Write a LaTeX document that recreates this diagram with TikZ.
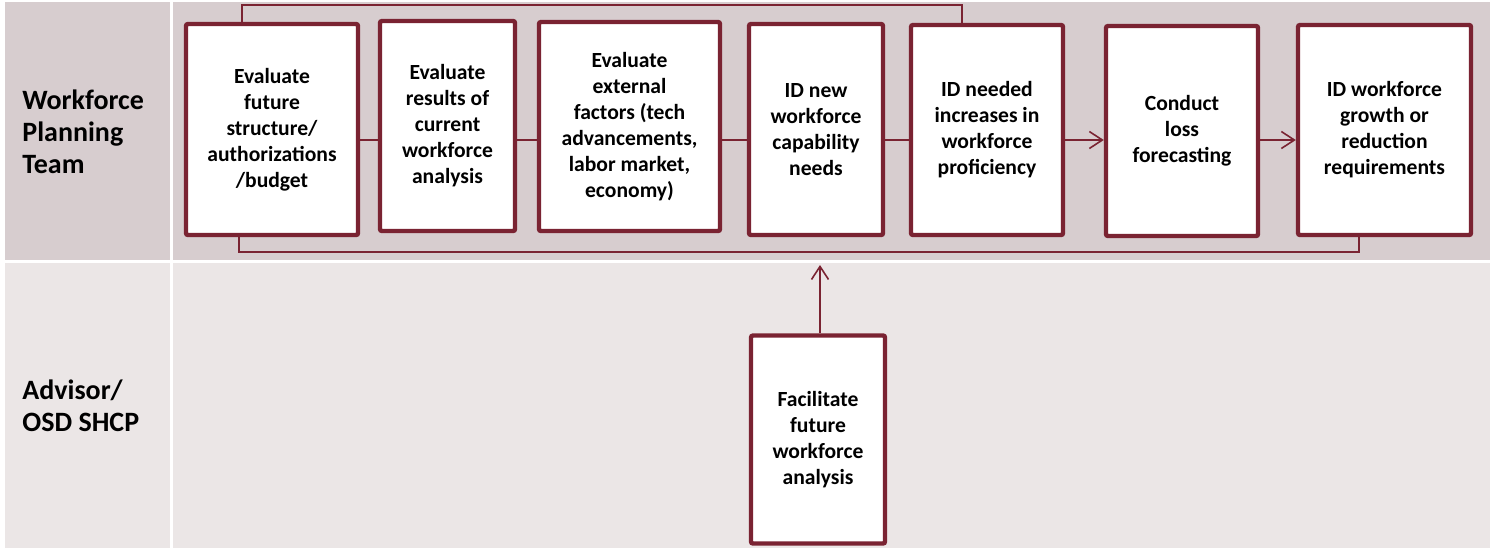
\documentclass[tikz,border=0pt]{standalone}
\usepackage{fontspec}
\setmainfont{Carlito}
\usepackage{tikz}
\usetikzlibrary{calc,arrows.meta}
\definecolor{wine}{HTML}{7A2332}
\definecolor{laneA}{HTML}{D7CDCF}
\definecolor{laneB}{HTML}{EBE6E6}
\tikzstyle{stepbox}=[draw=wine, line width=2.2pt, fill=white, rounded corners=1pt, align=center, inner sep=2pt, font=\fontsize{10.8}{13}\selectfont\bfseries]
\tikzstyle{link}=[draw=wine, line width=0.8pt]
\tikzstyle{link>}=[link, -{Straight Barb[length=6.5pt,width=8.5pt]}]
\tikzstyle{lanelabel}=[anchor=west, align=left, inner sep=0pt, font=\fontsize{14}{16}\selectfont\bfseries]

\begin{document}
\begin{tikzpicture}[x=0.5pt,y=-0.5pt]
\useasboundingbox[fill=white] (0,0) rectangle (1494,548);
% swim lanes
\fill[laneA] (5,2) rectangle (170,260);
\fill[laneA] (173,2) rectangle (1490,260);
\fill[laneB] (5,263) rectangle (170,548);
\fill[laneB] (173,263) rectangle (1490,548);
\node[lanelabel] (team) at (22,132) {Workforce\\Planning\\Team};
\node[lanelabel] (osd) at (22,406) {Advisor/\\OSD SHCP};
% steps
\node[stepbox, minimum width=86pt, minimum height=105.5pt] (s1) at (272,129.5) {Evaluate\\future\\structure/\\authorizations\\/budget};
\node[stepbox, minimum width=67.5pt, minimum height=105pt] (s2) at (447.5,126) {Evaluate\\results of\\current\\workforce\\analysis};
\node[stepbox, minimum width=90.5pt, minimum height=104.5pt] (s3) at (629.5,126.5) {Evaluate\\external\\factors (tech\\advancements,\\labor market,\\economy)};
\node[stepbox, minimum width=67pt, minimum height=105.5pt] (s4) at (816,129.5) {ID new\\workforce\\capability\\needs};
\node[stepbox, minimum width=76pt, minimum height=105pt] (s5) at (987,130) {ID needed\\increases in\\workforce\\proficiency};
\node[stepbox, minimum width=76pt, minimum height=105pt] (s6) at (1182,131) {Conduct\\loss\\forecasting};
\node[stepbox, minimum width=86.5pt, minimum height=105pt] (s7) at (1384.5,130) {ID workforce\\growth or\\reduction\\requirements};
\node[stepbox, minimum width=67pt, minimum height=104pt] (s8) at (818,439.5) {Facilitate\\future\\workforce\\analysis};
% connectors
\coordinate (row) at (0,140);
\draw[link] (s1.east |- row) -- (s2.west |- row);
\draw[link] (s2.east |- row) -- (s3.west |- row);
\draw[link] (s3.east |- row) -- (s4.west |- row);
\draw[link] (s4.east |- row) -- (s5.west |- row);
\draw[link>] (s5.east |- row) -- (s6.west |- row);
\draw[link>] (s6.east |- row) -- (s7.west |- row);
% brackets
\coordinate (tl) at (242,5);
\coordinate (tr) at (962,5);
\draw[link] (s1.north -| tl) -- (tl) -- (tr) -- (s5.north -| tr);
\coordinate (bl) at (239,252);
\coordinate (br) at (1359,252);
\draw[link] (s1.south -| bl) -- (bl) -- (br) -- (s7.south -| br);
\coordinate (tip) at (820,265);
\draw[link>] (s8.north -| tip) -- (tip);
\end{tikzpicture}
\end{document}
